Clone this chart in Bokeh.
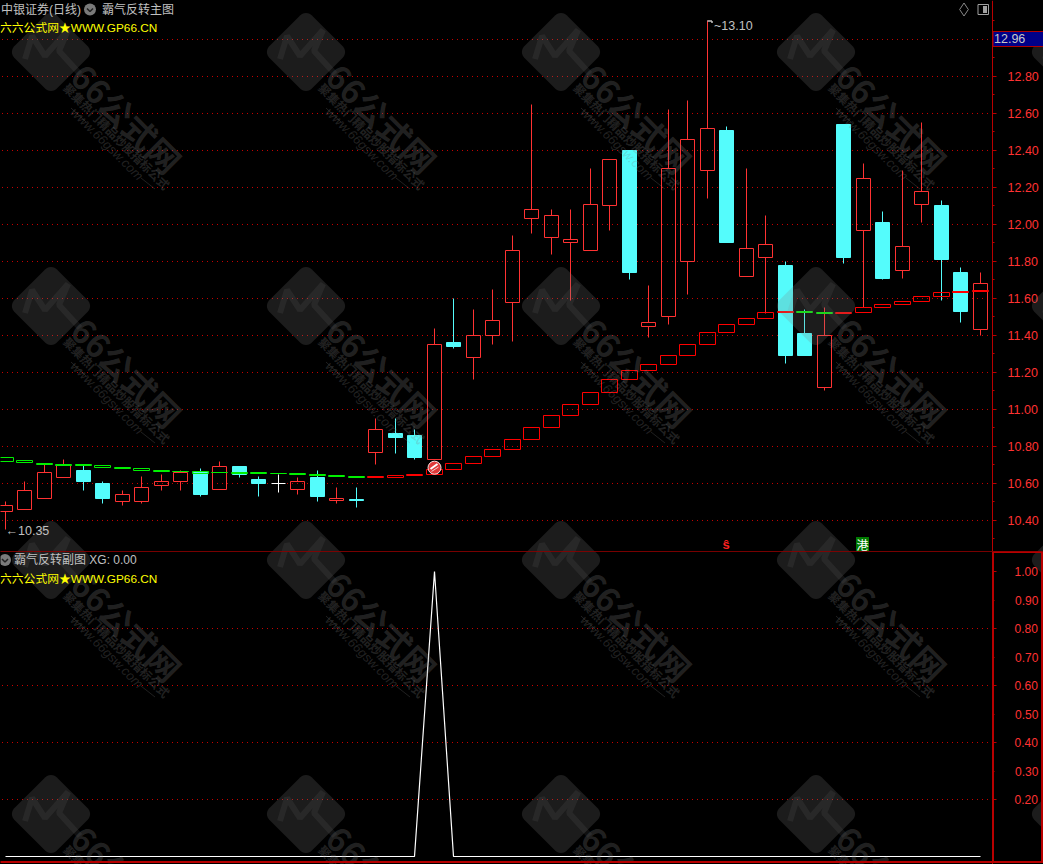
import math
from bokeh.plotting import figure
from bokeh.layouts import column
from bokeh.models import FixedTicker, Label, LinearAxis, PolyAnnotation, NumeralTickFormatter
from bokeh.embed import file_html
from bokeh.resources import INLINE

opens  = [10.45,10.46,10.52,10.63,10.67,10.60,10.50,10.50,10.59,10.61,10.66,10.57,10.69,10.62,10.60,10.57,10.63,10.51,10.515,
          10.77,10.87,10.86,10.73,11.36,11.28,11.40,11.58,12.03,11.93,11.90,11.86,12.10,12.40,11.45,11.50,11.80,
          12.29,12.51,11.72,11.82,11.78,11.41,11.12,12.54,11.97,12.01,11.75,12.11,12.10,11.74,11.43]
highs  = [10.50,10.61,10.70,10.73,10.70,10.61,10.56,10.64,10.65,10.67,10.68,10.72,10.69,10.64,10.65,10.63,10.67,10.58,10.58,
          10.95,10.95,10.89,11.44,11.60,11.54,11.65,11.94,12.65,12.08,12.08,12.30,12.35,12.40,11.67,12.62,12.67,
          13.10,12.53,12.30,12.05,11.80,11.54,11.55,12.54,12.33,12.07,12.29,12.55,12.13,11.77,11.74]
lows   = [10.35,10.46,10.52,10.63,10.56,10.49,10.48,10.49,10.56,10.56,10.53,10.57,10.63,10.53,10.55,10.54,10.50,10.49,10.47,
          10.70,10.76,10.73,10.73,11.33,11.16,11.35,11.37,11.95,11.84,11.59,11.86,11.97,11.70,11.39,11.46,11.62,
          12.14,11.90,11.72,11.52,11.25,11.29,11.10,11.79,11.55,11.70,11.71,12.01,11.59,11.47,11.40]
closes = [10.48,10.56,10.66,10.70,10.61,10.52,10.54,10.58,10.61,10.66,10.54,10.69,10.65,10.60,10.60,10.61,10.53,10.52,10.51,
          10.89,10.85,10.74,11.35,11.34,11.40,11.48,11.86,12.08,12.05,11.92,12.11,12.35,11.74,11.47,12.30,12.46,
          12.52,11.90,11.87,11.89,11.29,11.29,11.40,11.82,12.25,11.71,11.88,12.18,11.81,11.53,11.68]
trend_top = [10.740,10.724,10.710,10.705,10.700,10.697,10.687,10.680,10.670,10.667,10.665,10.661,10.660,10.659,10.656,10.654,10.649,10.645,10.640,
             10.638,10.643,10.649,10.676,10.708,10.746,10.784,10.838,10.903,10.968,11.027,11.092,11.162,11.211,11.243,11.292,11.351,
             11.416,11.459,11.492,11.524,11.530,11.530,11.526,11.524,11.550,11.568,11.584,11.611,11.632,11.638,11.643]
trend_bot = [10.720,10.712,10.700,10.695,10.695,10.685,10.680,10.668,10.663,10.663,10.656,10.658,10.654,10.652,10.652,10.647,10.641,10.636,10.631,
             10.631,10.634,10.642,10.647,10.676,10.708,10.744,10.784,10.838,10.903,10.968,11.027,11.092,11.162,11.211,11.243,11.292,
             11.351,11.416,11.459,11.492,11.523,11.523,11.517,11.517,11.524,11.551,11.566,11.584,11.611,11.631,11.636]
trend_green = [1,1,1,1,1,1,1,1,1,1,1,1,1,1,1,1,1,1,1,
               0,0,0,0,0,0,0,0,0,0,0,0,0,0,0,0,0,
               0,0,0,0,0,1,1,0,0,0,0,0,0,0,0]
xg = [0,0,0,0,0,0,0,0,0,0,0,0,0,0,0,0,0,0,0,0,0,0,1,0,0,0,0,0,0,0,0,0,0,0,0,0,0,0,0,0,0,0,0,0,0,0,0,0,0,0,0]

price_ticks = [10.4,10.6,10.8,11.0,11.2,11.4,11.6,11.8,12.0,12.2,12.4,12.6,12.8]
price_minor = [10.3,10.5,10.7,10.9,11.1,11.3,11.5,11.7,11.9,12.1,12.3,12.5,12.7,12.9,13.0,13.1]
price_grid  = [10.4,10.6,10.8,11.0,11.2,11.4,11.6,11.8,12.0,12.2,12.4,12.6,12.8,13.0]
sub_even  = [0.2,0.4,0.6,0.8,1.0]
sub_odd   = [0.3,0.5,0.7,0.9]
sub_grid  = [0.2,0.4,0.6,0.8]

title_main = "中银证券(日线)"
title_ind  = "霸气反转主图"
title_sub  = "霸气反转副图 XG: 0.00"
promo      = "六六公式网★WWW.GP66.CN"
high_label = "~13.10"
low_label  = "←10.35"
last_price = "12.96"

wm_cols = [51, 306, 561, 816, 1071]
wm_rows = [52, 306, 560, 814]

RED, CYAN, AXIS = "#ff3232", "#54fcfc", "#b80000"
UI = "Liberation Sans, Noto Sans CJK SC"
GRID = "#c80000"

def fx(px):   return (px - 5.5) / 19.5
def fy1(py):  return 13.2135 - py / 185.0
def fy2(py):  return (856.5 - py) / 285.0

def snap(v):
    py = (13.2135 - v) * 185.0
    return fy1(math.floor(py) + 0.5)

xs = [i - (i % 2) * 0.5 / 19.5 for i in range(len(closes))]

def base(height, y0, y1):
    p = figure(width=1043, height=height, x_range=(fx(0.5), fx(1043.5)), y_range=(y1, y0),
               toolbar_location=None, output_backend="svg", x_axis_location=None, y_axis_location=None,
               background_fill_color="black", border_fill_color="black",
               min_border=0, styles={"background-color": "black"})
    p.outline_line_color = None
    p.grid.visible = False
    return p

def add_axis(p, yf, ticks, minor, grid, standoff, font_px):
    ax = LinearAxis(fixed_location=fx(992.5))
    ax.ticker = FixedTicker(ticks=ticks, minor_ticks=minor)
    ax.formatter = NumeralTickFormatter(format="0.00")
    ax.axis_line_color = AXIS
    ax.major_tick_line_color = AXIS
    ax.minor_tick_line_color = AXIS
    ax.major_tick_in = 0
    ax.minor_tick_in = 0
    ax.major_tick_out = 4
    ax.minor_tick_out = 2
    ax.major_label_text_color = RED
    ax.major_label_text_font = "Liberation Sans"
    ax.major_label_text_font_size = font_px
    ax.major_label_standoff = standoff
    p.add_layout(ax, "right")
    p.segment([fx(2)] * len(grid), grid, [fx(991)] * len(grid), grid, line_color=GRID, line_dash="1 4", line_width=1)

def poly(p, yf, pts, fill=None, fill_alpha=1.0, line=None, line_alpha=1.0, lw=1):
    kw = dict(xs=[fx(a) for a, b in pts], ys=[yf(b) for a, b in pts], line_width=lw)
    kw["fill_color"] = fill if fill else "black"
    kw["fill_alpha"] = fill_alpha if fill else 0
    kw["line_color"] = line if line else "black"
    kw["line_alpha"] = line_alpha if line else 0
    p.add_layout(PolyAnnotation(**kw))

def label(p, yf, px, py, text, size=12, color="#c0c0c0", font=UI, align="left", baseline="middle", style="normal", alpha=1.0, angle=0):
    p.add_layout(Label(x=fx(px), y=yf(py), text=text, text_font=font, text_font_size=f"{size}px",
                       text_color=color, text_align=align, text_baseline=baseline, text_font_style=style,
                       text_alpha=alpha, angle=angle, angle_units="deg"))

def watermark(p, yf, rows, text_rows):
    s, r = 30.0, 8.0
    corner = []
    for k, (cx, cy) in enumerate([(1,1),(-1,1),(-1,-1),(1,-1)]):
        for t in range(0, 7):
            a = math.pi / 2 * k + math.pi / 12 * t
            corner.append((cx * (s - r) + r * math.cos(a), cy * (s - r) + r * math.sin(a)))
    c45 = math.sqrt(0.5)
    shape = [((a - b) * c45, (a + b) * c45) for a, b in corner]
    zig = [(-26,7),(-19,-16),(-6,4),(17,-22),(8,-1),(29,22)]
    for wy in rows:
        for wx in wm_cols:
            poly(p, yf, [(wx + a, wy + b) for a, b in shape], fill="#808080", fill_alpha=0.22)
            z = [(wx + a, wy + b) for a, b in zig]
            poly(p, yf, z + z[::-1], line="#808080", line_alpha=0.12, lw=6)
            if wy in text_rows and wx < 1043:
                poly(p, yf, [(wx + 20, wy + 56), (wx + 35, wy + 70)], line="#808080", line_alpha=0.25, lw=1)
                poly(p, yf, [(wx + 90, wy + 126), (wx + 104, wy + 137)], line="#808080", line_alpha=0.25, lw=1)
                label(p, yf, wx + 76, wy + 66, "66公式网", size=33, color="#808080", font="Noto Sans CJK SC",
                      align="center", style="bold", alpha=0.27, angle=-45)
                label(p, yf, wx + 66, wy + 84, "聚集热门精品炒股指标公式", size=12, color="#808080", font="Noto Sans CJK SC",
                      align="center", style="bold", alpha=0.27, angle=-45)
                label(p, yf, wx + 56, wy + 92, "www.66gsw.com", size=13, color="#808080", font="Liberation Sans",
                      align="center", style="italic", alpha=0.27, angle=-45)

# ---------- main pane ----------
top = base(551, fy1(0.5), fy1(551.5))
add_axis(top, fy1, price_ticks, price_minor, price_grid, 11, "12.5px")

up = [i for i in range(len(closes)) if closes[i] > opens[i]]
dn = [i for i in range(len(closes)) if closes[i] < opens[i]]
fl = [i for i in range(len(closes)) if closes[i] == opens[i]]
half = 7 / 19.5

top.segment([xs[i] for i in up], [snap(highs[i]) for i in up], [xs[i] for i in up], [snap(closes[i]) for i in up], line_color=RED, line_width=1)
top.segment([xs[i] for i in up], [snap(opens[i]) for i in up], [xs[i] for i in up], [snap(lows[i]) for i in up], line_color=RED, line_width=1)
top.segment([xs[i] for i in dn], [snap(highs[i]) for i in dn], [xs[i] for i in dn], [snap(lows[i]) for i in dn], line_color=CYAN, line_width=1)
top.segment([xs[i] for i in fl], [snap(highs[i]) for i in fl], [xs[i] for i in fl], [snap(lows[i]) for i in fl], line_color="white", line_width=1)
top.quad(left=[xs[i] - half for i in up], right=[xs[i] + half for i in up],
         top=[snap(closes[i]) for i in up], bottom=[snap(opens[i]) for i in up],
         fill_color=None, line_color=RED, line_width=1)
top.quad(left=[xs[i] - half for i in dn], right=[xs[i] + half for i in dn],
         top=[snap(opens[i]) for i in dn], bottom=[snap(closes[i]) for i in dn],
         fill_color=CYAN, line_color=CYAN, line_width=1)
top.segment([xs[i] - half for i in fl], [snap(closes[i]) for i in fl], [xs[i] + half for i in fl], [snap(closes[i]) for i in fl],
            line_color="white", line_width=1)

thalf = 8 / 19.5
tcol = ["#00f000" if g else "#ff0000" for g in trend_green]
top.quad(left=[x - thalf for x in xs], right=[x + thalf for x in xs],
         top=[snap(v) for v in trend_top], bottom=[snap(v) for v in trend_bot],
         fill_color=None, line_color=tcol, line_width=1)

# reversal ball on bar 22
ball_i = xg.index(1)
top.scatter([xs[ball_i]], [fy1(467.7)], marker="circle", size=13, fill_color="#e03a3a", line_color="#f8e0e0", line_width=1)
top.segment([xs[ball_i] - 4/19.5], [fy1(469)], [xs[ball_i] + 3/19.5], [fy1(464)], line_color="white", line_width=2)
top.segment([xs[ball_i] - 3/19.5], [fy1(471.5)], [xs[ball_i] + 4/19.5], [fy1(467)], line_color="#f0d0d0", line_width=1)

watermark(top, fy1, [52, 306, 560], [52, 306])

# header icons
top.scatter([fx(90)], [fy1(9.5)], marker="circle", size=12, fill_color="#7a7a7a", line_color=None)
top.line([fx(87), fx(90), fx(93)], [fy1(8.5), fy1(11.5), fy1(8.5)], line_color="#222222", line_width=1.5)
top.scatter([fx(964)], [fy1(9.5)], marker="diamond", size=13, fill_color=None, line_color="#8a8a8a", line_width=1)
top.quad(left=[fx(978)], right=[fx(988.5)], top=[fy1(4.5)], bottom=[fy1(14.5)], fill_color=None, line_color="#a0a0a0", line_width=1)
top.quad(left=[fx(983)], right=[fx(987)], top=[fy1(6)], bottom=[fy1(13)], fill_color="#a0a0a0", line_color=None)

label(top, fy1, 1, 9.5, title_main)
label(top, fy1, 102, 9.5, title_ind)
label(top, fy1, 0, 28, promo, size=11.8, color="#ffff00")
label(top, fy1, 714, 26, high_label, size=12.5)
poly(top, fy1, [(707.5, 21), (712, 21), (712, 23), (712, 21)], line="#c0c0c0", lw=1)
label(top, fy1, 5.5, 531, low_label, size=12.5)
label(top, fy1, 726, 544, "ŝ", size=13, color="#ff2020", font="Liberation Sans", align="center", style="bold")
poly(top, fy1, [(856, 537), (869, 537), (869, 551), (856, 551)], fill="#007a00")
label(top, fy1, 862.5, 544, "港", size=12, color="#ffffff", font="Noto Sans CJK SC", align="center")

# latest price box
poly(top, fy1, [(993, 31.5), (1044, 31.5), (1044, 46.5), (993, 46.5)], fill="#000088", line="#b00000", lw=1)
label(top, fy1, 994, 38.5, last_price, size=12.5, color="#c8c8c8", font="Liberation Sans")

# ---------- sub pane ----------
sub = base(313, fy2(551.5), fy2(864.5))
add_axis(sub, fy2, sub_even, sub_odd, sub_grid, 18, "12px")
sub.line(xs, xg, line_color="white", line_width=1.2)
watermark(sub, fy2, [560, 814], [560, 814])

for v in sub_odd:
    label(sub, fy2, 1015, 856.5 - v * 285.0, f"{v:.2f}", size=12, color=RED, font="Liberation Sans")
label(sub, fy2, 14, 560, title_sub)
label(sub, fy2, 0, 579, promo, size=11.8, color="#ffff00")
sub.scatter([fx(5)], [fy2(560)], marker="circle", size=12, fill_color="#7a7a7a", line_color=None)
sub.line([fx(2), fx(5), fx(8)], [fy2(559), fy2(562), fy2(559)], line_color="#222222", line_width=1.5)
poly(sub, fy2, [(0, 551.5), (1043, 551.5), (0, 551.5)], line="#a00000", lw=1)
poly(sub, fy2, [(0, 862), (1043, 862), (0, 862)], line=AXIS, lw=2)
poly(sub, fy2, [(993, 552), (1042, 552), (1042, 862), (993, 862)], line=AXIS, lw=2)

page = column(top, sub, spacing=0)
open("out.html", "w").write(file_html(page, INLINE))
